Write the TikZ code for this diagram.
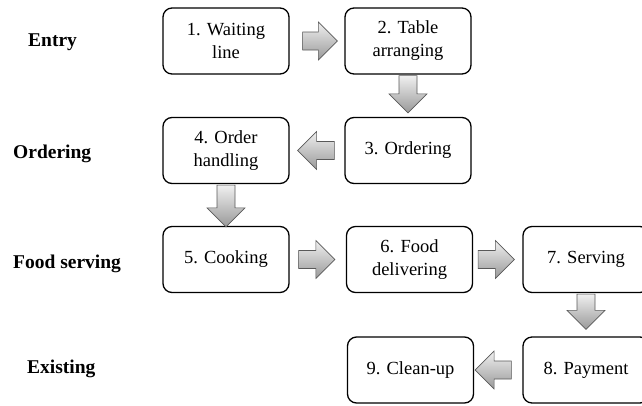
\documentclass[tikz,border=0pt]{standalone}
\usepackage{fontspec}
\setmainfont{Liberation Serif}
\usetikzlibrary{calc}
\tikzset{
  stepbox/.style={draw=black, line width=1.3pt, rounded corners=9pt, fill=white,
    minimum width=126pt, minimum height=66pt, align=center, inner sep=2pt,
    font=\fontsize{18.5pt}{23pt}\selectfont},
  phase/.style={anchor=base west, inner sep=0pt,
    font=\fontsize{19.5pt}{23pt}\selectfont\bfseries},
  blockarrow/.style={draw=black!65, line width=0.6pt, top color=black!6, bottom color=black!40, line join=miter}
}
\newcommand{\blockarr}[2]{%
  \coordinate (ba-h) at ($(#2)!19pt!(#1)$);
  \path[blockarrow] ($(#1)!9pt!90:(#2)$) -- ($(ba-h)!9pt!90:(#2)$) -- ($(ba-h)!19pt!90:(#2)$) -- (#2)
    -- ($(ba-h)!19pt!-90:(#2)$) -- ($(ba-h)!9pt!-90:(#2)$) -- ($(#1)!9pt!-90:(#2)$) -- cycle;}
\begin{document}
\begin{tikzpicture}[x=1pt,y=-1pt]
\useasboundingbox (0,0) rectangle (642,405);
\clip (0,0) rectangle (642,405);
% phase labels
\node[phase] (lentry) at (28,46) {Entry};
\node[phase] (lorder) at (13,158) {Ordering};
\node[phase] (lfood) at (13,268) {Food serving};
\node[phase] (lexit) at (27,373) {Existing};
% boxes
\node[stepbox] (b1) at (226,41) {1. Waiting\\line};
\node[stepbox] (b2) at (408,41) {2. Table\\arranging};
\node[stepbox] (b3) at (408,150.5) {3. Ordering};
\node[stepbox] (b4) at (226,150.5) {4. Order\\handling};
\node[stepbox] (b5) at (226,259.5) {5. Cooking};
\node[stepbox] (b6) at (409.5,259.5) {6. Food\\delivering};
\node[stepbox] (b7) at (586,259.5) {7. Serving};
\node[stepbox] (b8) at (586,370) {8. Payment};
\node[stepbox] (b9) at (410.5,370) {9. Clean-up};
% arrow end points
\coordinate (a12s) at ($(b1.east)+(13,0)$);
\coordinate (a12e) at ($(b2.west)+(-7,0)$);
\coordinate (a23s) at ($(b2.south)+(0,1)$);
\coordinate (a23e) at ($(b3.north)+(0,-4)$);
\coordinate (a34s) at ($(b3.west)+(-10,0)$);
\coordinate (a34e) at ($(b4.east)+(8,0)$);
\coordinate (a45s) at ($(b4.south)+(0,1)$);
\coordinate (a45e) at ($(b5.north)+(0,1)$);
\coordinate (a56s) at ($(b5.east)+(9,0)$);
\coordinate (a56e) at ($(b6.west)+(-11,0)$);
\coordinate (a67s) at ($(b6.east)+(5,0)$);
\coordinate (a67e) at ($(b7.west)+(-8,0)$);
\coordinate (a78s) at ($(b7.south)+(0,1)$);
\coordinate (a78e) at ($(b8.north)+(0,-7)$);
\coordinate (a89s) at ($(b8.west)+(-11,0)$);
\coordinate (a89e) at ($(b9.east)+(1,0)$);
\blockarr{a12s}{a12e}
\blockarr{a23s}{a23e}
\blockarr{a34s}{a34e}
\blockarr{a45s}{a45e}
\blockarr{a56s}{a56e}
\blockarr{a67s}{a67e}
\blockarr{a78s}{a78e}
\blockarr{a89s}{a89e}
\end{tikzpicture}
\end{document}
